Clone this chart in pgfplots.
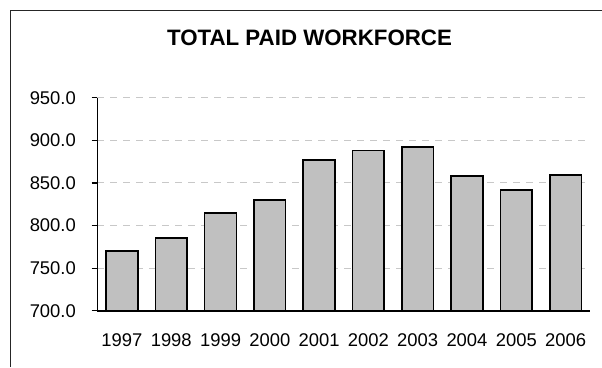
\documentclass[border=0pt]{standalone}
\usepackage{pgfplots}
\pgfplotsset{compat=1.18}
\usepackage{fontspec}
\setmainfont{Liberation Sans}
\definecolor{barfill}{RGB}{192,192,192}
\definecolor{gridc}{RGB}{200,200,200}
\begin{document}
\begin{tikzpicture}
\useasboundingbox (0pt,0pt) rectangle (602pt,367pt);
\draw[line width=1pt, black!85] (10pt,0pt) -- (10pt,356pt) -- (602pt,356pt);
\node[anchor=base, font=\fontsize{22.3}{26}\selectfont\bfseries] at (309.5pt,321pt) {TOTAL PAID WORKFORCE};
\begin{axis}[
  at={(97.3pt,56.3pt)}, anchor=south west,
  scale only axis, width=492.9pt, height=213pt,
  xmin=-0.5, xmax=9.5, ymin=700, ymax=950,
  axis x line=bottom, axis y line=left,
  axis line style={-, line width=1.6pt, black},
  xtick=data,
  xticklabels={1997,1998,1999,2000,2001,2002,2003,2004,2005,2006},
  xtick style={draw=none},
  ytick={700,750,800,850,900,950},
  tick align=outside, major tick length=5.6pt,
  ytick style={line width=1.2pt, black},
  /pgf/number format/assume math mode=true,
  yticklabel={\pgfmathprintnumber[fixed,fixed zerofill,precision=1]{\tick}},
  tick label style={font=\fontsize{18.4}{22}\selectfont},
  yticklabel style={anchor=east, inner sep=0pt, xshift=-15.7pt},
  xticklabel style={anchor=base, inner sep=0pt, yshift=-30pt},
  ymajorgrids,
  grid style={gridc, line width=1pt, dash pattern=on 7pt off 6pt},
]
\addplot[ybar, bar width=0.643, fill=barfill, draw=black, line width=1.6pt]
  coordinates {(0,770) (1,785) (2,815) (3,830) (4,877) (5,888) (6,892) (7,858) (8,842) (9,859)};
\end{axis}
\end{tikzpicture}
\end{document}
